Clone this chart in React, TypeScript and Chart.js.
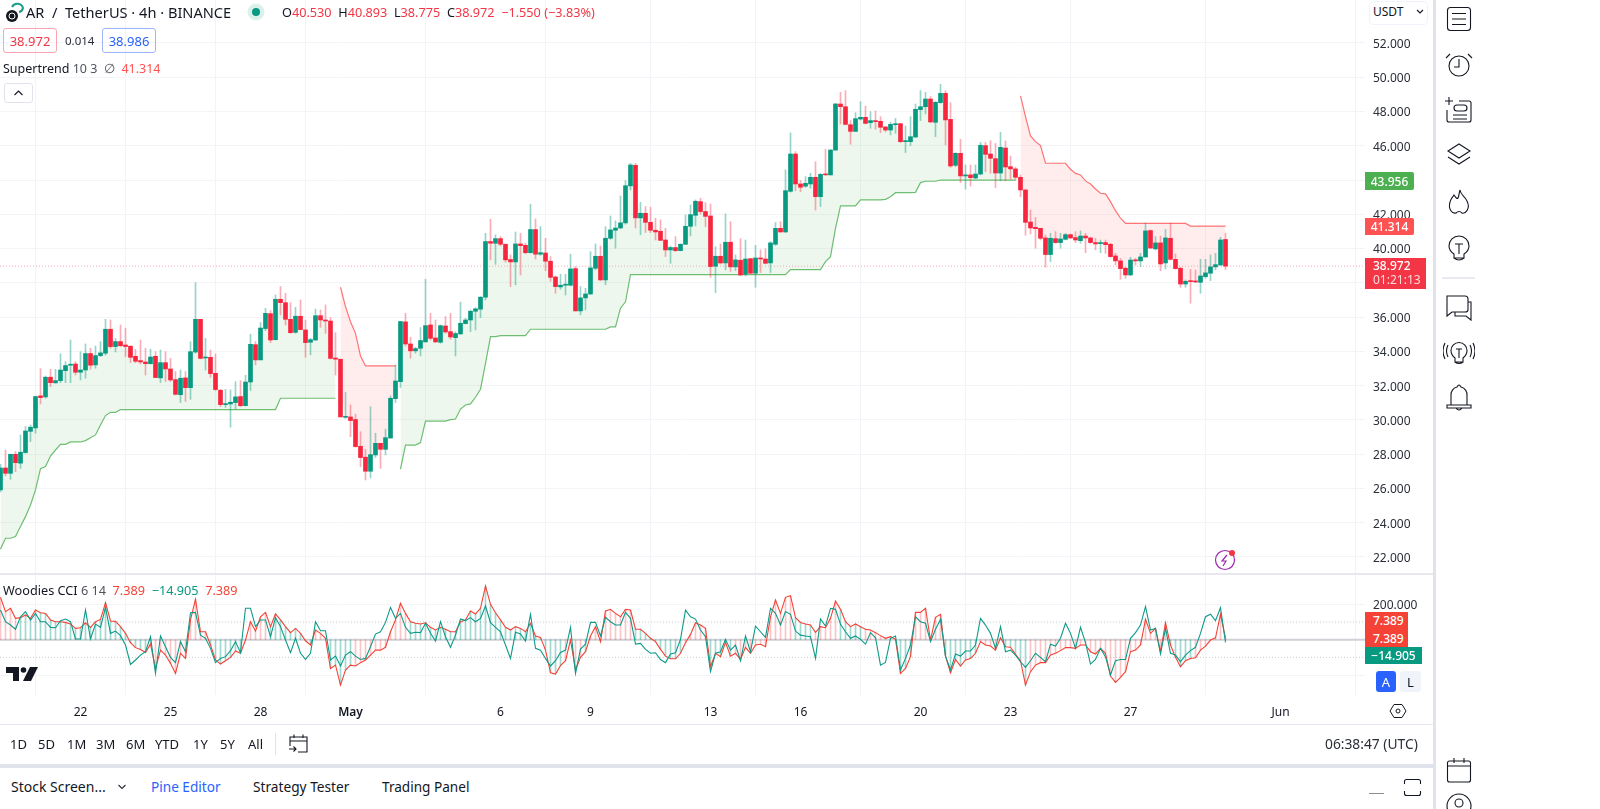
import React, { useEffect, useRef } from "react";
import { Chart, registerables } from "chart.js";

Chart.register(...registerables);

const opens = [
25.91,27.19,26.88,27.99,27.47,28.09,29.33,29.53,31.40,31.34,
32.49,32.16,32.29,32.87,33.19,33.26,32.78,32.91,33.87,33.21,
33.75,33.89,35.29,34.28,34.57,34.37,34.30,33.71,33.46,33.38,
33.28,33.71,32.45,33.34,32.97,32.35,31.47,32.45,31.88,33.96,
35.87,33.61,33.65,32.72,31.73,30.89,30.93,31.01,31.36,30.83,
32.21,34.39,33.50,35.33,36.20,34.68,37.04,36.84,35.87,35.11,
36.05,35.25,34.53,34.66,36.08,35.83,35.77,33.61,33.54,30.15,
30.17,30.02,28.46,27.82,27.00,27.95,28.63,28.28,28.94,31.24,
32.23,35.72,34.43,34.03,34.18,34.55,35.54,34.78,34.53,35.48,
35.15,34.80,35.02,35.62,35.83,36.34,36.46,37.16,40.41,40.31,
40.58,40.25,39.36,39.22,40.27,40.19,39.76,41.11,39.67,39.74,
39.26,38.34,37.76,37.86,37.86,38.83,36.36,37.12,37.35,38.85,
39.55,38.17,40.60,41.07,41.20,41.50,43.66,44.86,41.79,42.06,
41.53,41.07,41.01,40.50,39.92,40.06,39.88,40.25,41.30,41.94,
42.74,42.16,41.90,38.97,39.55,39.16,40.37,38.93,39.32,38.50,
39.41,38.56,39.45,39.39,39.16,40.25,41.18,40.97,43.34,45.52,
43.77,43.64,43.77,44.16,43.03,44.33,44.30,45.75,48.44,48.28,
47.23,46.84,47.56,47.66,47.35,47.47,47.43,47.10,46.92,47.23,
47.29,46.24,46.24,46.51,48.11,48.28,48.73,47.37,48.52,49.06,
47.54,44.86,45.56,44.24,44.30,44.12,44.35,46.01,45.52,45.25,
44.41,45.87,44.78,44.65,44.16,43.42,41.55,41.24,41.18,40.62,
39.65,40.58,40.35,40.54,40.81,40.64,40.46,40.73,40.62,40.35,
40.29,40.35,40.25,39.57,39.28,38.85,38.46,39.33,39.28,39.51,
41.05,39.98,40.33,39.16,40.60,39.37,38.85,37.93,38.11,38.09,
38.03,38.36,38.56,38.93,39.04,40.53];

const highs = [
27.41,28.24,27.99,28.15,29.12,29.61,29.70,31.40,32.99,32.56,
32.95,32.95,33.85,33.40,34.66,33.40,33.98,34.43,34.18,34.31,
34.57,35.87,35.83,34.76,35.54,35.35,34.31,34.12,34.66,34.18,
34.12,33.98,34.08,33.98,33.59,32.82,32.91,32.82,34.57,38.01,
35.87,34.76,34.08,33.85,31.78,31.78,31.75,32.23,32.29,32.60,
35.00,34.57,35.68,36.51,36.38,37.29,37.78,37.39,36.84,36.57,
37.00,35.83,34.76,36.47,36.42,36.71,35.97,35.09,33.54,31.61,
30.87,30.33,29.31,28.28,30.77,29.22,28.63,29.45,31.40,33.21,
35.74,36.22,34.82,34.24,35.39,38.21,36.22,35.83,35.54,36.03,
36.22,35.15,36.87,35.93,36.42,36.55,37.20,40.89,41.71,40.80,
40.70,40.27,39.63,40.97,40.89,40.31,42.59,41.73,41.28,40.60,
39.53,38.40,38.50,38.50,39.67,38.95,37.78,37.68,39.82,40.27,
40.15,41.28,41.90,41.61,43.07,43.97,44.98,44.98,42.70,42.45,
42.41,41.77,41.67,41.18,40.15,40.70,40.27,41.96,42.55,42.84,
42.94,42.68,42.60,40.11,40.27,42.02,41.57,39.63,40.58,40.50,
39.43,40.19,39.92,39.98,40.41,41.52,41.57,44.59,46.75,45.66,
43.97,44.20,44.39,45.07,44.39,45.79,45.79,48.48,49.12,49.22,
47.47,47.93,48.58,48.32,47.99,48.03,47.70,47.12,47.37,47.60,
47.31,47.15,47.70,48.44,49.22,49.12,48.87,48.58,49.59,49.22,
48.52,45.60,46.38,44.88,44.88,44.88,46.20,46.20,46.30,46.14,
46.79,46.28,45.40,44.74,44.30,43.46,42.25,41.82,41.18,40.79,
40.89,40.99,40.89,40.89,40.85,40.99,41.03,40.89,40.64,40.60,
40.50,40.50,40.31,39.72,39.43,38.91,39.49,39.43,39.72,41.49,
41.09,40.70,40.73,41.12,41.49,39.68,38.91,38.17,38.79,38.75,
39.37,39.37,39.63,39.72,40.66,40.893];

const lows = [
25.80,26.73,26.53,26.98,27.17,28.05,28.73,29.22,30.93,31.26,
31.94,32.14,32.17,32.17,32.17,32.62,32.33,32.43,32.95,33.01,
33.69,33.77,34.18,33.96,34.28,33.69,33.34,33.34,33.26,32.62,
33.26,32.47,32.17,32.23,32.23,31.45,31.01,31.07,31.20,33.89,
33.56,32.91,32.47,31.71,30.77,30.73,29.57,30.62,30.77,30.81,
31.71,33.21,33.50,35.21,34.51,34.66,36.12,35.54,35.05,35.05,
35.25,33.65,33.79,34.63,35.40,35.05,33.54,32.62,30.17,30.07,
29.02,28.40,27.27,26.49,26.61,27.80,27.17,27.95,28.93,31.01,
31.89,34.30,33.60,33.89,33.73,34.55,34.67,34.51,34.47,35.06,
34.71,33.73,34.98,35.60,35.15,35.25,35.97,37.00,39.34,39.08,
40.15,39.20,37.78,37.88,38.46,39.69,39.73,39.39,39.60,38.71,
38.09,37.39,37.62,37.29,37.82,36.36,36.13,36.42,37.31,38.75,
38.13,37.88,40.54,40.02,41.17,41.42,43.42,41.20,40.80,40.93,
40.93,40.50,40.46,39.53,39.14,39.82,39.86,40.23,40.74,41.32,
42.02,41.28,38.32,37.43,39.10,38.75,38.66,38.71,38.42,38.40,
38.52,37.74,38.60,39.10,38.60,40.19,40.95,40.93,43.29,43.38,
43.32,43.58,43.52,42.25,42.45,44.28,44.28,45.72,47.27,47.21,
46.09,46.82,47.51,47.27,47.02,46.96,46.77,46.82,46.63,46.73,
46.18,45.60,46.01,46.49,47.47,47.86,47.35,46.53,48.48,46.05,
44.74,44.78,43.85,43.46,43.65,44.06,44.31,44.49,44.39,43.56,
43.95,43.95,44.04,44.00,43.03,40.78,40.85,40.02,40.50,38.91,
39.24,40.31,40.02,40.50,40.58,40.35,40.31,39.76,40.31,39.92,
39.76,39.72,39.49,39.04,38.21,38.26,38.42,39.04,38.95,39.47,
40.01,39.92,38.71,38.81,39.33,38.79,37.74,37.74,36.81,38.01,
37.39,38.26,38.13,38.75,39.00,38.775];

const closes = [
27.19,26.88,27.99,27.50,28.11,29.35,29.57,31.36,31.30,32.49,
32.17,32.29,32.91,33.17,33.24,32.78,32.91,33.87,33.19,33.75,
33.91,35.29,34.28,34.57,34.33,34.28,33.65,33.42,33.38,33.28,
33.67,32.47,33.34,32.97,32.33,31.49,32.43,31.88,33.98,35.87,
33.59,33.65,32.70,31.77,30.89,30.93,31.03,31.34,30.83,32.21,
34.41,33.50,35.36,36.22,34.66,37.04,36.84,35.87,35.09,36.05,
35.27,34.51,34.68,36.08,35.83,35.77,33.59,33.54,30.17,30.19,
29.96,28.44,27.80,27.00,27.97,28.63,28.28,28.96,31.26,32.27,
35.74,34.43,34.03,34.16,34.63,35.50,34.76,34.55,35.50,35.13,
34.84,35.04,35.64,35.83,36.34,36.48,37.16,40.41,40.31,40.58,
40.25,39.34,39.22,40.27,40.17,39.76,41.11,39.67,39.76,39.26,
38.32,37.78,37.86,37.90,38.81,36.36,37.12,37.35,38.87,39.55,
38.17,40.60,41.09,41.20,41.50,43.67,44.88,41.79,42.06,41.53,
41.07,40.97,40.48,39.92,40.06,39.88,40.25,41.30,41.98,42.76,
42.16,41.88,38.95,39.55,39.16,40.37,38.93,39.34,38.46,39.39,
38.56,39.45,39.39,39.14,40.33,41.18,40.97,43.38,45.52,43.77,
43.58,43.81,44.16,43.03,44.33,44.30,45.75,48.44,48.28,47.25,
46.84,47.58,47.66,47.31,47.47,47.41,47.08,46.92,47.25,47.29,
46.24,46.30,46.53,48.13,48.28,48.73,47.39,48.54,49.06,47.51,
44.82,45.56,44.24,44.30,44.14,44.35,46.03,45.50,45.27,44.41,
45.91,44.76,44.65,44.16,43.42,41.53,41.20,41.16,40.60,39.65,
40.60,40.35,40.56,40.81,40.62,40.50,40.73,40.62,40.35,40.27,
40.35,40.23,39.53,39.28,38.83,38.46,39.33,39.28,39.51,41.03,
40.03,40.33,39.10,40.62,39.37,38.83,37.93,38.09,38.07,38.05,
38.40,38.58,38.93,39.06,40.50,38.972];

const supertrendUp = [
22.45,23.09,23.09,23.19,23.77,24.35,25.03,25.91,27.15,27.27,
27.89,28.24,28.57,28.57,28.71,28.71,28.71,28.79,28.96,29.12,
29.70,30.25,30.44,30.44,30.60,30.60,30.60,30.60,30.60,30.60,
30.60,30.60,30.60,30.60,30.60,30.60,30.60,30.60,30.60,30.60,
30.60,30.60,30.60,30.60,30.60,30.60,30.60,30.60,30.60,30.60,
30.60,30.60,30.60,30.60,30.60,30.60,31.26,31.26,31.26,31.26,
31.26,31.26,31.26,31.26,31.26,31.26,31.26,31.26,null,null,
null,null,null,null,null,null,null,null,null,null,
27.13,28.53,28.53,28.53,28.67,29.93,29.93,29.93,29.93,29.93,
30.01,30.05,30.63,30.87,30.93,31.32,31.79,33.30,34.86,34.86,
34.92,34.92,34.92,34.92,34.92,34.92,35.29,35.29,35.29,35.29,
35.29,35.29,35.29,35.29,35.29,35.29,35.29,35.29,35.29,35.29,
35.29,35.29,35.43,35.43,36.52,36.89,38.48,38.48,38.48,38.48,
38.48,38.48,38.48,38.48,38.48,38.48,38.48,38.48,38.48,38.48,
38.48,38.48,38.48,38.48,38.48,38.48,38.48,38.48,38.48,38.48,
38.48,38.48,38.48,38.48,38.48,38.48,38.48,38.48,38.77,38.77,
38.77,38.77,38.77,38.77,38.77,39.24,39.53,41.18,42.49,42.49,
42.49,42.49,42.84,42.84,42.84,42.84,42.84,42.87,43.03,43.26,
43.26,43.26,43.26,43.28,43.85,43.93,43.93,43.93,44.00,44.00,
44.00,44.00,44.00,44.00,44.00,44.00,44.00,44.00,44.00,44.00,
44.00,44.00,44.00,44.00,null,null,null,null,null,null,
null,null,null,null,null,null,null,null,null,null,
null,null,null,null,null,null,null,null,null,null,
null,null,null,null,null,null,null,null,null,null,
null,null,null,null,null,null];

const supertrendDown = [
null,null,null,null,null,null,null,null,null,null,
null,null,null,null,null,null,null,null,null,null,
null,null,null,null,null,null,null,null,null,null,
null,null,null,null,null,null,null,null,null,null,
null,null,null,null,null,null,null,null,null,null,
null,null,null,null,null,null,null,null,null,null,
null,null,null,null,null,null,null,null,37.74,36.61,
35.73,35.05,33.73,33.15,33.15,33.15,33.15,33.15,33.15,33.15,
null,null,null,null,null,null,null,null,null,null,
null,null,null,null,null,null,null,null,null,null,
null,null,null,null,null,null,null,null,null,null,
null,null,null,null,null,null,null,null,null,null,
null,null,null,null,null,null,null,null,null,null,
null,null,null,null,null,null,null,null,null,null,
null,null,null,null,null,null,null,null,null,null,
null,null,null,null,null,null,null,null,null,null,
null,null,null,null,null,null,null,null,null,null,
null,null,null,null,null,null,null,null,null,null,
null,null,null,null,null,null,null,null,null,null,
null,null,null,null,null,null,null,null,null,null,
null,null,null,null,48.91,47.70,46.57,46.24,46.01,44.98,
44.98,44.98,44.98,44.98,44.63,44.39,44.30,43.95,43.77,43.48,
43.23,43.19,42.74,42.21,41.77,41.47,41.47,41.47,41.47,41.47,
41.47,41.47,41.47,41.47,41.47,41.47,41.47,41.47,41.314,41.314,
41.314,41.314,41.314,41.314,41.314,41.314];

const cciFast = [
240,159,178,121,125,140,121,168,153,149,
112,102,102,98,89,64,68,96,70,102,
115,210,106,104,74,36,-17,-45,-55,-72,
-25,-163,-59,-87,-134,-191,-77,-106,112,229,
45,45,-30,-115,-138,-119,-100,-64,-77,-2,
102,49,130,155,74,146,112,74,40,64,
36,-6,-30,55,36,8,-163,-144,-257,-172,
-144,-149,-130,-115,-87,-59,-59,-43,45,112,
206,149,102,93,89,96,70,55,70,59,
45,45,102,112,163,146,178,304,200,153,
112,70,55,74,64,45,93,21,13,-59,
-187,-195,-147,-119,-2,-172,-100,-68,21,74,
-11,163,172,149,130,172,168,60,59,36,
8,-11,-55,-93,-108,-108,-77,-17,30,96,
83,64,-153,-77,-96,-15,-93,-77,-112,-43,
-77,-30,-26,-40,130,225,149,240,249,125,
98,89,83,42,74,68,121,219,172,102,
74,89,74,59,55,40,23,8,17,2,
-191,-163,-96,155,155,178,-2,127,144,-93,
-187,-112,-149,-115,-106,-77,-11,-30,-36,-59,
11,-40,-43,-83,-119,-257,-181,-144,-130,-130,
-87,-77,-62,-45,-45,-49,-30,-30,-68,-81,
-49,-77,-206,-242,-214,-181,-68,-59,-30,115,
36,64,-68,96,-30,-100,-153,-119,-106,-102,
-59,-36,-2,11,144,7.389];

const cciTurbo = [
168,102,83,59,130,159,112,149,102,102,
70,68,108,117,102,4,4,168,4,89,
70,183,36,49,23,-30,-140,-115,-87,-68,
17,-191,21,-40,-100,-130,-11,-68,153,155,
26,8,-49,-130,-106,-96,-62,-11,-74,178,
178,74,112,112,17,125,74,-2,-74,8,
-77,-112,-77,102,51,51,-115,-93,-149,-87,
-68,-93,-112,-106,-40,32,45,98,183,121,
149,70,36,42,40,93,36,-8,102,17,
-43,26,117,108,125,102,121,191,96,70,
45,-30,-106,42,32,-8,144,-49,-59,-106,
-149,-119,-72,-59,70,-191,-53,-25,98,98,
21,127,102,83,83,155,121,-25,-21,-55,
-77,-74,-112,-130,-81,-74,2,168,130,117,
55,17,-181,-77,-68,2,-59,-30,-119,21,
-68,77,45,13,178,149,83,159,144,49,
26,21,17,-106,117,77,178,172,87,45,
8,21,2,-25,40,11,-144,-129,8,21,
-172,-106,-30,130,102,93,-11,59,115,-93,
-172,-81,-93,-64,-64,-30,121,83,36,-49,
74,-68,-59,-87,-125,-157,-119,-77,-100,-125,
-25,-36,8,93,36,-49,70,-17,-138,-112,
-49,-96,-200,-119,-112,-112,8,40,83,187,
55,64,-81,64,-77,-87,-125,-87,-62,-43,
36,130,144,108,181,-14.905];

// Woodies histogram colour runs: inclusive bar index ranges drawn teal; all the others red.
const histTealRuns = [[4,30],[42,48],[54,62],[66,70],[82,112],[117,117],[127,136],[142,146],[159,162],[168,172],[180,182],[189,195],[201,205],[234,238]];

const xTickIndex = [16,34,52,70,100,118,142,160,184,202,226,256];
const xTickLabels = ["22","25","28","May","6","9","13","16","20","23","27","Jun"];
const priceTicks = [22,24,26,28,30,32,34,36,38,40,42,44,46,48,50,52];
const cciTicks = [-200,200];
const lastPrice = [38.972, 38.972];
const cciZero = [0, 0];
const cciUpper = [100, 100];
const cciLower = [-100, -100];
const xBounds = [-0.1, 272.9];
const priceBounds = [21.06, 54.51];
const cciBounds = [-313.3, 377.9];

const UP = "#089981";
const DOWN = "#f7253e";
const FONT = '"Noto Sans", sans-serif';
const GRID = "#f3f4f7";
const TEXT = "#131722";

const pts = (a: (number | null)[]) => a.map((y, x) => ({ x, y }));
const span = (a: number[]) => xBounds.map((x, k) => ({ x, y: a[k] }));
const isUp = (i: number) => closes[i] >= opens[i];
const isTeal = (i: number) => histTealRuns.some(([a, b]) => i >= a && i <= b);

const clearPadding = (s: any) => {
  s.paddingLeft = 0;
  s.paddingRight = 0;
  s.paddingTop = 0;
  s.paddingBottom = 0;
};

function xScale(showLabels: boolean, height: number) {
  return {
    type: "linear",
    offset: false,
    min: xBounds[0],
    max: xBounds[1],
    afterBuildTicks: (s: any) => { s.ticks = xTickIndex.map((value) => ({ value })); },
    afterFit: (s: any) => { s.height = height; clearPadding(s); },
    border: { display: false },
    grid: { color: GRID, drawTicks: false },
    ticks: {
      display: showLabels,
      autoSkip: false,
      maxRotation: 0,
      padding: 10,
      color: TEXT,
      font: (ctx: any) => ({ family: FONT, size: 12, weight: ctx.index === 3 ? "600" : "normal" }),
      callback: (_: any, i: number) => xTickLabels[i],
    },
  };
}

function yScale(bounds: number[], values: number[], label: (v: number) => string) {
  return {
    position: "right",
    min: bounds[0],
    max: bounds[1],
    afterBuildTicks: (s: any) => { s.ticks = values.map((value) => ({ value })); },
    afterFit: (s: any) => { s.width = 68; clearPadding(s); },
    border: { display: false },
    grid: { color: GRID, drawTicks: false },
    ticks: {
      padding: 8,
      color: "#2a2e39",
      // A blank first line with a 3px line height sets the label 1.5px lower, as in the reference.
      font: { family: FONT, size: 12, lineHeight: "3px" },
      callback: (v: number) => ["", label(v)],
    },
  };
}

const baseOptions = {
  responsive: false,
  animation: false,
  devicePixelRatio: 1,
  layout: { padding: 0 },
  plugins: { legend: { display: false }, tooltip: { enabled: false } },
  events: [],
};

const line = (color: string, width: number, order: number, extra: any = {}) => ({
  type: "line",
  borderColor: color,
  borderWidth: width,
  pointRadius: 0,
  tension: 0,
  fill: false,
  order,
  ...extra,
});

const Box = ({ x, y, w, h, bg, color, children, extra }: any) => (
  <div style={{ position: "absolute", left: x, top: y, width: w, height: h, background: bg, color, display: "flex", alignItems: "center", justifyContent: "center", ...extra }}>{children}</div>
);

const Txt = ({ x, y, size = 13, color = TEXT, children, extra }: any) => (
  <div style={{ position: "absolute", left: x, top: y, transform: "translateY(-50%)", fontSize: size, color, whiteSpace: "pre", lineHeight: 1, ...extra }}>{children}</div>
);

const Ico = ({ cx, cy, size = 32, children }: any) => (
  <svg width={size} height={size} viewBox="0 0 32 32" style={{ position: "absolute", left: cx - size / 2, top: cy - size / 2 }} fill="none" stroke="#131722" strokeWidth={1.1}>{children}</svg>
);

export default function App() {
  const mainRef = useRef<HTMLCanvasElement>(null);
  const cciRef = useRef<HTMLCanvasElement>(null);

  useEffect(() => {
    const mid = opens.map((o, i) => (o + closes[i]) / 2);
    const main = new Chart(mainRef.current as any, {
      type: "bar",
      data: {
        datasets: [
          line("transparent", 0, 9, { data: pts(mid) }),
          line("rgba(76,175,80,0.8)", 1.2, 5, { data: pts(supertrendUp), fill: { target: 0, above: "rgba(76,175,80,0.1)", below: "rgba(76,175,80,0.1)" } }),
          line("rgba(255,82,82,0.8)", 1.2, 5, { data: pts(supertrendDown), fill: { target: 0, above: "rgba(255,82,82,0.1)", below: "rgba(255,82,82,0.1)" } }),
          line("rgba(242,54,69,0.4)", 1, 6, { data: span(lastPrice), borderDash: [1, 2] }),
          {
            data: lows.map((l, i) => ({ x: i, y: [l, highs[i]] })),
            backgroundColor: lows.map((_, i) => (isUp(i) ? "rgba(8,153,129,0.42)" : "rgba(247,37,62,0.38)")),
            barThickness: 1,
            grouped: false,
            order: 2,
          },
          {
            data: opens.map((o, i) => ({ x: i, y: [o, closes[i]] })),
            backgroundColor: opens.map((_, i) => (isUp(i) ? UP : DOWN)),
            barThickness: 4,
            minBarLength: 1,
            grouped: false,
            order: 1,
          },
        ],
      } as any,
      options: {
        ...baseOptions,
        scales: {
          x: xScale(false, 0),
          y: yScale(priceBounds, priceTicks, (v: number) => v.toFixed(3)),
        },
      } as any,
    });

    const cci = new Chart(cciRef.current as any, {
      type: "bar",
      data: {
        datasets: [
          line("#cfd1d6", 2, 8, { data: span(cciZero) }),
          line("#c9cbd1", 1, 8, { data: span(cciUpper), borderDash: [1, 2] }),
          line("#c9cbd1", 1, 8, { data: span(cciLower), borderDash: [1, 2] }),
          {
            data: pts(cciFast),
            backgroundColor: cciFast.map((_, i) => (isTeal(i) ? "rgba(8,153,129,0.38)" : "rgba(247,60,70,0.3)")),
            barThickness: 1,
            grouped: false,
            order: 6,
          },
          line("#f44336", 1.1, 2, { data: pts(cciFast) }),
          line("#0e9a88", 1.1, 1, { data: pts(cciTurbo) }),
        ],
      } as any,
      options: {
        ...baseOptions,
        scales: {
          x: xScale(true, 29),
          y: yScale(cciBounds, cciTicks, (v: number) => (v === 200 ? v.toFixed(3) : "")),
        },
      } as any,
    });

    return () => {
      main.destroy();
      cci.destroy();
    };
  }, []);

  const redTxt = "#f23645";
  return (
    <div style={{ position: "fixed", left: 0, top: 0, width: 1600, height: 809, overflow: "hidden", background: "#fff", fontFamily: FONT }}>
      <canvas ref={mainRef} width={1433} height={573} style={{ position: "absolute", left: 0, top: 0 }} />
      <canvas ref={cciRef} width={1433} height={151} style={{ position: "absolute", left: 0, top: 573 }} />

      {/* pane dividers and chrome bands */}
      <Box x={0} y={573} w={1433} h={2} bg="#e6e8ed" />
      <Box x={0} y={724} w={1433} h={1} bg="#e6e8ef" />
      <Box x={0} y={764} w={1436} h={4} bg="#e0e3eb" />
      <Box x={1433} y={0} w={3} h={809} bg="#e0e3eb" />

      {/* header */}
      <svg width="22" height="22" style={{ position: "absolute", left: 2, top: 2 }} fill="none">
        <circle cx="10" cy="14" r="6" fill="#131722" />
        <circle cx="10" cy="14" r="3" fill="none" stroke="#fff" strokeWidth="1" />
        <path d="M10 5 A6 6 0 0 1 21 6 A5 5 0 0 1 17 10" stroke="#1a9c8c" strokeWidth="2" />
      </svg>
      <Txt x={26} y={12} size={14.6}>AR  /  TetherUS · 4h · BINANCE</Txt>
      <svg width="18" height="18" style={{ position: "absolute", left: 247, top: 3 }}>
        <circle cx="9" cy="9" r="8.5" fill="rgba(8,153,129,0.14)" />
        <circle cx="9" cy="9" r="4" fill="#089981" />
      </svg>
      <Txt x={282} y={12} size={12.7}>
        O<span style={{ color: redTxt }}>40.530</span>{"  "}H<span style={{ color: redTxt }}>40.893</span>{"  "}L<span style={{ color: redTxt }}>38.775</span>{"  "}C<span style={{ color: redTxt }}>38.972  −1.550 (−3.83%)</span>
      </Txt>

      <Box x={3} y={28} w={52} h={23} color={redTxt} extra={{ border: "1px solid #f7a6ad", borderRadius: 3, fontSize: 13 }}>38.972</Box>
      <Txt x={65} y={40.5} size={11.5} color="#2a2e39">0.014</Txt>
      <Box x={102} y={28} w={52} h={23} color="#2962ff" extra={{ border: "1px solid #9db4ff", borderRadius: 3, fontSize: 13 }}>38.986</Box>
      <Txt x={3} y={69} size={12.5}>Supertrend <span style={{ color: "#50535e" }}>10 3{"  "}∅</span>{"  "}<span style={{ color: "#ff5252" }}>41.314</span></Txt>
      <div style={{ position: "absolute", left: 4, top: 83, width: 27, height: 18, border: "1px solid #e0e3eb", borderRadius: 3, background: "#fff" }}>
        <svg width="27" height="18" fill="none" stroke="#131722" strokeWidth="1.1"><path d="M9.5 11 L13.5 7 L17.5 11" /></svg>
      </div>

      {/* currency button */}
      <div style={{ position: "absolute", left: 1369, top: 1, width: 57, height: 22, border: "1px solid #f0f3fa", borderRadius: 4, background: "#fff" }} />
      <Txt x={1373} y={12} size={12}>USDT</Txt>
      <svg width="10" height="8" style={{ position: "absolute", left: 1415, top: 8 }} fill="none" stroke="#131722" strokeWidth="1.1"><path d="M2 2 L5 5 L8 2" /></svg>

      {/* price labels */}
      <Box x={1365} y={172} w={49} h={18} bg="#4caf50" color="#fff" extra={{ fontSize: 12, fontWeight: 500, borderRadius: "0 2px 2px 0" }}>43.956</Box>
      <Box x={1365} y={218} w={49} h={17} bg="#ff5252" color="#fff" extra={{ fontSize: 12, fontWeight: 500, borderRadius: "0 2px 2px 0" }}>41.314</Box>
      <div style={{ position: "absolute", left: 1365, top: 258, width: 61, height: 31, background: "#f23645", color: "#fff", fontSize: 12, lineHeight: "14px", paddingTop: 1, boxSizing: "border-box" }}>
        <div style={{ paddingLeft: 8, fontWeight: 500 }}>38.972</div>
        <div style={{ paddingLeft: 8, color: "#ffd9dc" }}>01:21:13</div>
      </div>
      <div style={{ position: "absolute", left: 1365, top: 612, width: 43, height: 35, background: "#f44336", color: "#fff", fontSize: 12, lineHeight: "17.5px", paddingLeft: 8, boxSizing: "border-box", fontWeight: 500 }}>
        <div>7.389</div>
        <div>7.389</div>
      </div>
      <Box x={1365} y={647} w={57} h={17} bg="#089981" color="#fff" extra={{ fontSize: 12, fontWeight: 500 }}>−14.905</Box>
      <Box x={1376} y={671} w={20} h={21} bg="#2962ff" color="#fff" extra={{ fontSize: 13, borderRadius: 3 }}>A</Box>
      <Box x={1400} y={671} w={21} h={21} bg="#f0f3fa" color={TEXT} extra={{ fontSize: 13, borderRadius: 3 }}>L</Box>
      <svg width="18" height="18" style={{ position: "absolute", left: 1389, top: 702 }} fill="none" stroke="#131722" strokeWidth="1">
        <path d="M5 2.5 H13 L17 9 L13 15.5 H5 L1 9 Z" />
        <circle cx="9" cy="9" r="2" />
      </svg>

      {/* lightning */}
      <svg width="26" height="26" style={{ position: "absolute", left: 1212, top: 547 }} fill="none">
        <circle cx="13" cy="13" r="9.5" stroke="#9c27b0" strokeWidth="1.2" />
        <path d="M15 8 L10 14 H14 L11 19" stroke="#9c27b0" strokeWidth="1.2" />
        <circle cx="20" cy="6" r="3" fill="#f23645" />
      </svg>

      {/* Woodies legend */}
      <Txt x={3} y={590} size={12.7}>Woodies CCI <span style={{ color: "#50535e" }}>6 14</span>{"  "}<span style={{ color: "#f44336" }}>7.389</span>{"  "}<span style={{ color: "#089981" }}>−14.905</span>{"  "}<span style={{ color: "#f44336" }}>7.389</span></Txt>
      <svg width="32" height="16" viewBox="0 0 32 16" style={{ position: "absolute", left: 6, top: 666 }} fill="#131722">
        <path d="M0 1 H13 V15 H7 V7 H0 Z" />
        <circle cx="17.5" cy="4" r="2.8" />
        <path d="M24 1 H32 L25 15 H17 Z" />
      </svg>

      {/* bottom toolbar */}
      {[["1D", 10], ["5D", 38], ["1M", 67], ["3M", 96], ["6M", 126], ["YTD", 155], ["1Y", 193], ["5Y", 220], ["All", 248]].map(([t, x]: any) => (
        <Txt key={t} x={x} y={744} size={13}>{t}</Txt>
      ))}
      <Box x={275} y={733} w={1} h={22} bg="#e0e3eb" />
      <svg width="22" height="22" style={{ position: "absolute", left: 288, top: 733 }} fill="none" stroke="#131722" strokeWidth="1.1">
        <path d="M2 13 V4 H19 V19 H10 M2 8 H19 M6 1.5 V5 M15 1.5 V5 M1 16 H8 M5.5 13.5 L8 16 L5.5 18.5" />
      </svg>
      <Txt x={1325} y={744} size={13.8} color="#2a2e39">06:38:47 (UTC)</Txt>

      {/* tabs */}
      <Txt x={11} y={787} size={14}>Stock Screen...</Txt>
      <svg width="10" height="8" style={{ position: "absolute", left: 117, top: 783 }} fill="none" stroke="#2a2e39" strokeWidth="1.1"><path d="M1.5 2 L5 5.5 L8.5 2" /></svg>
      <Txt x={151} y={787} size={13.6} color="#2962ff">Pine Editor</Txt>
      <Txt x={253} y={787} size={13.7}>Strategy Tester</Txt>
      <Txt x={382} y={787} size={13.6}>Trading Panel</Txt>
      <Box x={1369} y={793} w={15} h={1} bg="#8a8d96" />
      <svg width="20" height="20" style={{ position: "absolute", left: 1403, top: 778 }} fill="none" stroke="#131722" strokeWidth="1.1">
        <path d="M1.5 6 V3.5 Q1.5 1.5 3.5 1.5 H15.5 Q17.5 1.5 17.5 3.5 V6 M1.5 13 V15.5 Q1.5 17.5 3.5 17.5 H15.5 Q17.5 17.5 17.5 15.5 V13" />
      </svg>

      {/* right toolbar icons */}
      <Ico cx={1459} cy={19}><rect x="4.5" y="4.5" width="23" height="23" rx="3" /><path d="M9 10.5 H23 M9 16 H23 M9 21.5 H23" /></Ico>
      <Ico cx={1459} cy={65}><circle cx="16" cy="17" r="10" /><path d="M16 10 V18 H11 M3 9 L7 5 M29 9 L25 5" /></Ico>
      <Ico cx={1459} cy={111}><path d="M4 15 V25 Q4 27 6 27 H26 Q28 27 28 25 V8 Q28 6 26 6 H16 M10 20 H24 M10 24 H24 M2 6 H10 M6 2 V10" /><rect x="11" y="10" width="13" height="6" rx="3" /></Ico>
      <Ico cx={1459} cy={155}><path d="M16 5 L27 12 L16 19 L5 12 Z M5 18 L16 25 L27 18" /></Ico>
      <Ico cx={1459} cy={202}><path d="M17 4 C18 10 22 10 24 15 C28 23 22 28 19 27 C17 25 15 25 13 27 C9 28 5 23 7 16 C8 12 10 11 11 9 C13 12 14 13 15 12 C16 10 16 7 17 4 Z" /></Ico>
      <Ico cx={1459} cy={248}><path d="M11 22 C8 20 6 17 6 14 A10 10 0 0 1 26 14 C26 17 24 20 21 22 V26 H11 Z M11 26 Q16 30 21 26 M12 12 H20 M16 12 V22" /></Ico>
      <Box x={1442} y={277} w={33} h={2} bg="#e8eaf0" />
      <Ico cx={1459} cy={308}><path d="M4 4 H22 Q25 4 25 7 V18 Q25 20 22 20 H9 L4 24 Z M25 10 H28 V28 L23 24 H12 V20" /></Ico>
      <Ico cx={1459} cy={352} ><path d="M12 22 C9.5 20 8 17.5 8 14.5 A8 8 0 0 1 24 14.5 C24 17.5 22.5 20 20 22 V26 H12 Z M12 26 Q16 29 20 26 M13 13 H19 M16 13 V22 M5 9 Q2 15 5 21 M2 7 Q-2 15 2 23 M27 9 Q30 15 27 21 M30 7 Q34 15 30 23" /></Ico>
      <Ico cx={1459} cy={397}><path d="M8 24 V15 A8 8 0 0 1 14 6 Q16 2 18 6 A8 8 0 0 1 24 15 V24 M4 24 H28 V27 H4 Z M13 27 Q16 31 19 27" /></Ico>
      <Ico cx={1459} cy={770}><rect x="4.5" y="7" width="23" height="21" rx="2" /><path d="M4.5 12 H27.5 M11 4 V9 M21 4 V9" /></Ico>
      <Ico cx={1459} cy={806}><circle cx="16" cy="16" r="12" /><circle cx="16" cy="13" r="4" /></Ico>
    </div>
  );
}
